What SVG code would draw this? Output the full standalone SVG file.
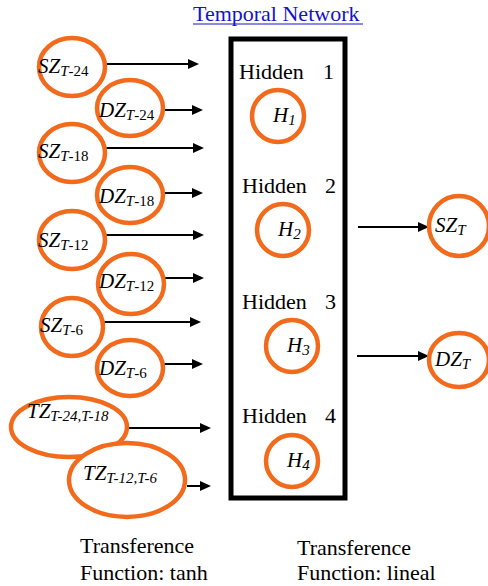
<svg xmlns="http://www.w3.org/2000/svg" width="488" height="586" viewBox="0 0 488 586">
<style>
.n{fill:#fff;stroke:#F26B1D;stroke-width:4.5}
.c line{stroke:#000;stroke-width:2}
.c polygon{fill:#000}
</style>
<rect width="488" height="586" fill="#fff"/>
<g id="title">
<text x="193" y="21" font-family="'Times New Roman', 'Liberation Serif', 'DejaVu Serif', serif" font-size="22" fill="#1414C8">Temporal Network</text>
<line x1="193" y1="24" x2="363" y2="24" stroke="#1414C8" stroke-width="1.2"/>
</g>
<g id="box"><rect x="231" y="39" width="114" height="459" fill="none" stroke="#000" stroke-width="5"/></g>
<g class="c" id="connectors">
<line x1="106" y1="64" x2="190" y2="64"/><polygon points="188,59 199,64 188,69"/>
<line x1="163" y1="110" x2="194" y2="110"/><polygon points="192,105 203,110 192,115"/>
<line x1="106" y1="148" x2="195" y2="148"/><polygon points="193,143 204,148 193,153"/>
<line x1="164" y1="193" x2="194" y2="193"/><polygon points="192,188 203,193 192,198"/>
<line x1="106" y1="235" x2="195" y2="235"/><polygon points="193,230 204,235 193,240"/>
<line x1="164" y1="278" x2="195" y2="278"/><polygon points="193,273 204,278 193,283"/>
<line x1="104" y1="322" x2="192" y2="322"/><polygon points="190,317 201,322 190,327"/>
<line x1="164" y1="364" x2="194" y2="364"/><polygon points="192,359 203,364 192,369"/>
<line x1="128" y1="428" x2="202" y2="428"/><polygon points="200,423 211,428 200,433"/>
<line x1="187" y1="486" x2="202" y2="486"/><polygon points="200,481 211,486 200,491"/>
<line x1="358" y1="227" x2="420" y2="227"/><polygon points="418,222 429,227 418,232"/>
<line x1="357" y1="356" x2="420" y2="356"/><polygon points="418,351 429,356 418,361"/>
</g>
<g id="sz24"><ellipse class="n" cx="72" cy="67" rx="33" ry="29"/><text x="38" y="73" font-family="'Times New Roman', 'Liberation Serif', 'DejaVu Serif', serif" font-size="21" font-style="italic">SZ<tspan font-size="15" dy="3">T<tspan font-style="normal">-24</tspan></tspan></text></g>
<g id="dz24"><ellipse class="n" cx="130" cy="108" rx="33" ry="28"/><text x="99" y="117" font-family="'Times New Roman', 'Liberation Serif', 'DejaVu Serif', serif" font-size="21" font-style="italic">DZ<tspan font-size="15" dy="3">T<tspan font-style="normal">-24</tspan></tspan></text></g>
<g id="sz18"><ellipse class="n" cx="72" cy="153" rx="33" ry="29"/><text x="38" y="158" font-family="'Times New Roman', 'Liberation Serif', 'DejaVu Serif', serif" font-size="21" font-style="italic">SZ<tspan font-size="15" dy="3">T<tspan font-style="normal">-18</tspan></tspan></text></g>
<g id="dz18"><ellipse class="n" cx="130" cy="195" rx="33" ry="28"/><text x="99" y="203" font-family="'Times New Roman', 'Liberation Serif', 'DejaVu Serif', serif" font-size="21" font-style="italic">DZ<tspan font-size="15" dy="3">T<tspan font-style="normal">-18</tspan></tspan></text></g>
<g id="sz12"><ellipse class="n" cx="72" cy="240" rx="33" ry="29"/><text x="38" y="247" font-family="'Times New Roman', 'Liberation Serif', 'DejaVu Serif', serif" font-size="21" font-style="italic">SZ<tspan font-size="15" dy="3">T<tspan font-style="normal">-12</tspan></tspan></text></g>
<g id="dz12"><ellipse class="n" cx="131" cy="284" rx="33" ry="30"/><text x="99" y="288" font-family="'Times New Roman', 'Liberation Serif', 'DejaVu Serif', serif" font-size="21" font-style="italic">DZ<tspan font-size="15" dy="3">T<tspan font-style="normal">-12</tspan></tspan></text></g>
<g id="sz6"><ellipse class="n" cx="72" cy="327" rx="31" ry="29"/><text x="40" y="332" font-family="'Times New Roman', 'Liberation Serif', 'DejaVu Serif', serif" font-size="21" font-style="italic">SZ<tspan font-size="15" dy="3">T<tspan font-style="normal">-6</tspan></tspan></text></g>
<g id="dz6"><ellipse class="n" cx="130" cy="368" rx="33" ry="28"/><text x="99" y="375" font-family="'Times New Roman', 'Liberation Serif', 'DejaVu Serif', serif" font-size="21" font-style="italic">DZ<tspan font-size="15" dy="3">T<tspan font-style="normal">-6</tspan></tspan></text></g>
<g id="tz2418"><ellipse class="n" cx="69" cy="427" rx="58" ry="30"/><text x="27" y="418" font-family="'Times New Roman', 'Liberation Serif', 'DejaVu Serif', serif" font-size="21" font-style="italic">TZ<tspan font-size="15" dy="3">T-24,T-18</tspan></text></g>
<g id="tz126"><ellipse class="n" cx="127" cy="480" rx="58" ry="37"/><text x="83" y="480" font-family="'Times New Roman', 'Liberation Serif', 'DejaVu Serif', serif" font-size="21" font-style="italic">TZ<tspan font-size="15" dy="3">T-12,T-6</tspan></text></g>
<g id="hl1"><text x="239" y="79" font-family="'Times New Roman', 'Liberation Serif', 'DejaVu Serif', serif" font-size="22">Hidden</text><text x="323" y="79" font-family="'Times New Roman', 'Liberation Serif', 'DejaVu Serif', serif" font-size="22">1</text></g>
<g id="h1"><circle class="n" cx="278" cy="116" r="26"/><text x="273" y="122" font-family="'Times New Roman', 'Liberation Serif', 'DejaVu Serif', serif" font-size="21" font-style="italic">H<tspan font-size="15" dy="3">1</tspan></text></g>
<g id="hl2"><text x="242" y="193" font-family="'Times New Roman', 'Liberation Serif', 'DejaVu Serif', serif" font-size="22">Hidden</text><text x="325" y="193" font-family="'Times New Roman', 'Liberation Serif', 'DejaVu Serif', serif" font-size="22">2</text></g>
<g id="h2"><circle class="n" cx="283" cy="230" r="26"/><text x="278" y="236" font-family="'Times New Roman', 'Liberation Serif', 'DejaVu Serif', serif" font-size="21" font-style="italic">H<tspan font-size="15" dy="3">2</tspan></text></g>
<g id="hl3"><text x="242" y="309" font-family="'Times New Roman', 'Liberation Serif', 'DejaVu Serif', serif" font-size="22">Hidden</text><text x="325" y="309" font-family="'Times New Roman', 'Liberation Serif', 'DejaVu Serif', serif" font-size="22">3</text></g>
<g id="h3"><circle class="n" cx="292" cy="346" r="26"/><text x="287" y="352" font-family="'Times New Roman', 'Liberation Serif', 'DejaVu Serif', serif" font-size="21" font-style="italic">H<tspan font-size="15" dy="3">3</tspan></text></g>
<g id="hl4"><text x="242" y="423" font-family="'Times New Roman', 'Liberation Serif', 'DejaVu Serif', serif" font-size="22">Hidden</text><text x="325" y="423" font-family="'Times New Roman', 'Liberation Serif', 'DejaVu Serif', serif" font-size="22">4</text></g>
<g id="h4"><circle class="n" cx="292" cy="461" r="26"/><text x="287" y="467" font-family="'Times New Roman', 'Liberation Serif', 'DejaVu Serif', serif" font-size="21" font-style="italic">H<tspan font-size="15" dy="3">4</tspan></text></g>
<g id="szt"><ellipse class="n" cx="459" cy="226" rx="30" ry="30"/><text x="435" y="232" font-family="'Times New Roman', 'Liberation Serif', 'DejaVu Serif', serif" font-size="21" font-style="italic">SZ<tspan font-size="15" dy="3">T</tspan></text></g>
<g id="dzt"><ellipse class="n" cx="459" cy="360" rx="30" ry="27"/><text x="435" y="366" font-family="'Times New Roman', 'Liberation Serif', 'DejaVu Serif', serif" font-size="21" font-style="italic">DZ<tspan font-size="15" dy="3">T</tspan></text></g>
<g id="lab1"><text x="80" y="553" font-family="'Times New Roman', 'Liberation Serif', 'DejaVu Serif', serif" font-size="22">Transference</text><text x="80" y="580" font-family="'Times New Roman', 'Liberation Serif', 'DejaVu Serif', serif" font-size="22">Function: tanh</text></g>
<g id="lab2"><text x="297" y="555" font-family="'Times New Roman', 'Liberation Serif', 'DejaVu Serif', serif" font-size="22">Transference</text><text x="297" y="580" font-family="'Times New Roman', 'Liberation Serif', 'DejaVu Serif', serif" font-size="22">Function: lineal</text></g>
</svg>
